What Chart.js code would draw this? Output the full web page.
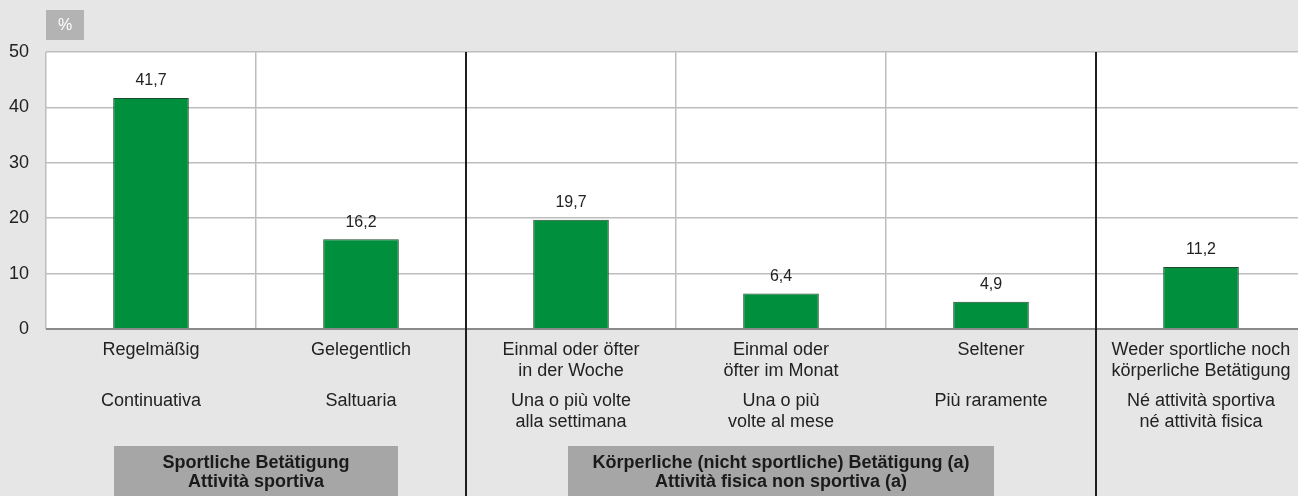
<!DOCTYPE html>
<html>
<head>
<meta charset="utf-8">
<script src="https://cdn.jsdelivr.net/npm/chart.js@4.4.1/dist/chart.umd.min.js"></script>
<style>
  html, body { margin: 0; padding: 0; overflow: hidden; background: #e6e6e6; }
  #wrap { width: 1308px; height: 496px; }
</style>
</head>
<body>
<div id="wrap"><canvas id="chart"></canvas></div>
<script>
// === DATA ===
var categories = ['Regelmäßig', 'Gelegentlich', 'Einmal oder öfter', 'Einmal oder', 'Seltener', 'Weder sportliche noch'];
var labelsDe = [
  ['Regelmäßig'],
  ['Gelegentlich'],
  ['Einmal oder öfter', 'in der Woche'],
  ['Einmal oder', 'öfter im Monat'],
  ['Seltener'],
  ['Weder sportliche noch', 'körperliche Betätigung']
];
var labelsIt = [
  ['Continuativa'],
  ['Saltuaria'],
  ['Una o più volte', 'alla settimana'],
  ['Una o più', 'volte al mese'],
  ['Più raramente'],
  ['Né attività sportiva', 'né attività fisica']
];
var values = [41.7, 16.2, 19.7, 6.4, 4.9, 11.2];
var yTicks = [0, 10, 20, 30, 40, 50];
var groupLabels = [
  ['Sportliche Betätigung', 'Attività sportiva'],
  ['Körperliche (nicht sportliche) Betätigung (a)', 'Attività fisica non sportiva (a)']
];
var groupFirst = [0, 2];
var groupLast = [1, 4];
var separators = [2, 5];   // dark lines on the left edge of these categories
var unitLabel = '%';

// === STYLE ===
var FONT = '"Liberation Sans", Arial, sans-serif';
var GREEN = '#008f3c';
var GRID = '#bdbdbd';
var groupBoxWidth = [284, 426];

var overlay = {
  id: 'overlay',
  beforeDraw: function(chart) {
    var c = chart.ctx, a = chart.chartArea;
    c.save();
    c.fillStyle = '#ffffff';
    c.fillRect(a.left, a.top, a.right - a.left, a.bottom - a.top);
    c.restore();
  },
  afterDatasetsDraw: function(chart) {
    var c = chart.ctx, meta = chart.getDatasetMeta(0);
    c.save();
    c.fillStyle = '#222';
    c.font = '16px ' + FONT;
    c.textAlign = 'center';
    c.textBaseline = 'middle';
    meta.data.forEach(function(bar, i) {
      c.fillText(values[i].toFixed(1).replace('.', ','), bar.x, bar.y - 17);
    });
    c.restore();
  },
  afterDraw: function(chart) {
    var c = chart.ctx, a = chart.chartArea, xs = chart.scales.x;
    var step = xs.getPixelForValue(1) - xs.getPixelForValue(0);
    c.save();

    // unit box
    c.fillStyle = '#b3b3b3';
    c.fillRect(a.left, 10, 38, 30);
    c.fillStyle = '#ffffff';
    c.font = '16px ' + FONT;
    c.textAlign = 'center';
    c.textBaseline = 'middle';
    c.fillText(unitLabel, a.left + 19, 26);

    // zero line
    c.strokeStyle = '#8a8a8a';
    c.lineWidth = 2;
    c.beginPath();
    c.moveTo(a.left, a.bottom);
    c.lineTo(a.right, a.bottom);
    c.stroke();

    // dark separators
    c.strokeStyle = '#1e1e1e';
    c.lineWidth = 2;
    separators.forEach(function(i) {
      var x = Math.round(xs.getPixelForValue(i) - step / 2);
      c.beginPath();
      c.moveTo(x, a.top);
      c.lineTo(x, chart.height);
      c.stroke();
    });

    // category labels
    c.fillStyle = '#222';
    c.font = '18px ' + FONT;
    labelsDe.forEach(function(lines, i) {
      var x = xs.getPixelForValue(i);
      lines.forEach(function(t, k) { c.fillText(t, x, 350 + k * 21); });
    });
    labelsIt.forEach(function(lines, i) {
      var x = xs.getPixelForValue(i);
      lines.forEach(function(t, k) { c.fillText(t, x, 401 + k * 21); });
    });

    // group boxes
    groupLabels.forEach(function(lines, g) {
      var left = xs.getPixelForValue(groupFirst[g]) - step / 2;
      var right = xs.getPixelForValue(groupLast[g]) + step / 2;
      var cx = (left + right) / 2, w = groupBoxWidth[g];
      c.fillStyle = '#a6a6a6';
      c.fillRect(cx - w / 2, 446, w, 60);
      c.fillStyle = '#1a1a1a';
      c.font = 'bold 18px ' + FONT;
      lines.forEach(function(t, k) { c.fillText(t, cx, 463 + k * 19); });
    });
    c.restore();
  }
};

new Chart(document.getElementById('chart').getContext('2d'), {
  type: 'bar',
  data: {
    labels: categories,
    datasets: [{
      data: values,
      backgroundColor: GREEN,
      borderColor: '#1f4a2c',
      borderWidth: 1,
      categoryPercentage: 1,
      barPercentage: 0.36
    }]
  },
  options: {
    responsive: true, maintainAspectRatio: false, animation: false,
    layout: { padding: { top: 52, right: 2, left: 0, bottom: 0 } },
    plugins: { legend: { display: false }, tooltip: { enabled: false } },
    scales: {
      x: {
        grid: {
          offset: true, drawTicks: false, lineWidth: 1.5,
          color: function(ctx) { return separators.indexOf(ctx.index) >= 0 ? 'rgba(0,0,0,0)' : GRID; }
        },
        border: { display: false },
        ticks: { display: false },
        afterFit: function(s) { s.height = 167; }
      },
      y: {
        min: 0, max: 50,
        afterBuildTicks: function(s) { s.ticks = yTicks.map(function(v) { return { value: v }; }); },
        grid: { color: GRID, drawTicks: false, lineWidth: 1.5 },
        border: { display: false },
        ticks: { font: { family: FONT, size: 18 }, color: '#222', padding: 17 },
        afterFit: function(s) { s.width = 46; }
      }
    }
  },
  plugins: [overlay]
});
</script>
</body>
</html>
